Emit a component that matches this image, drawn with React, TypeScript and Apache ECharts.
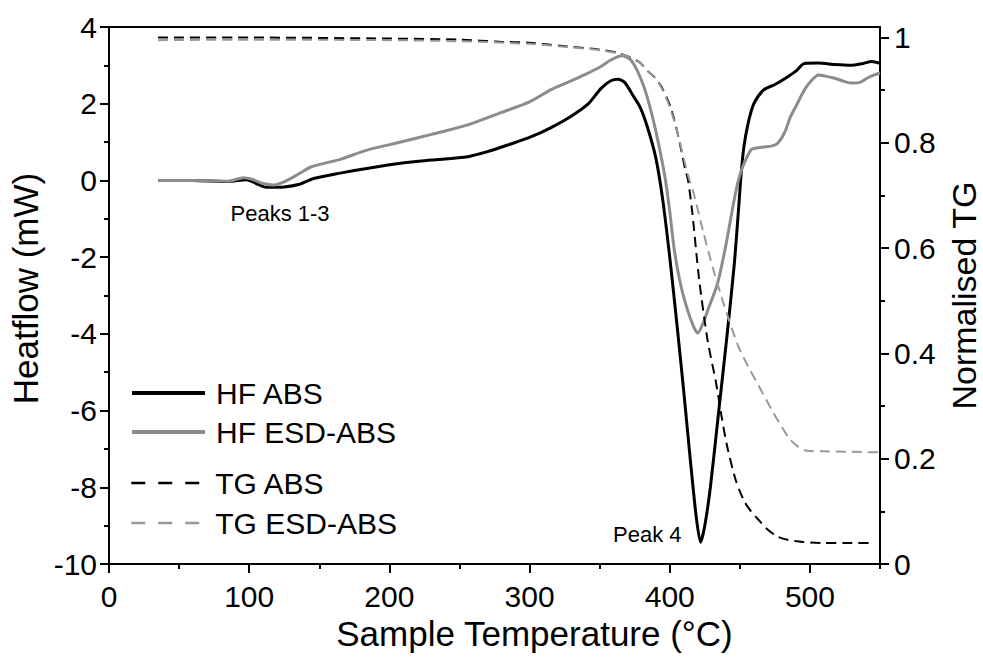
import React, { useEffect, useRef } from 'react';
import * as echarts from 'echarts';

// ---- Data ----
// HF ABS (heat flow, mW) vs sample temperature (°C)
const hfAbsT = [35, 60, 85, 98, 105, 112, 125, 136, 146, 165, 185, 208, 230, 256, 270, 285, 300, 315, 330, 342, 351, 358, 363, 368, 374, 379, 384, 390, 395, 400, 405, 410, 415, 419, 422, 425, 429, 435, 441, 446, 449, 451, 453, 456, 460, 467, 475, 482, 490, 496, 506, 518, 529, 538, 544, 550];
const hfAbsV = [0.0, 0.0, -0.03, 0.02, -0.08, -0.18, -0.17, -0.1, 0.05, 0.19, 0.32, 0.45, 0.53, 0.62, 0.75, 0.93, 1.12, 1.37, 1.68, 2.0, 2.4, 2.6, 2.64, 2.55, 2.2, 1.9, 1.4, 0.6, -0.5, -2.0, -3.7, -5.5, -7.4, -8.8, -9.43, -9.0, -8.0, -6.0, -4.0, -2.2, -0.8, 0.2, 0.9, 1.5, 2.0, 2.36, 2.5, 2.65, 2.85, 3.05, 3.06, 3.02, 3.0, 3.05, 3.1, 3.05];

// HF ESD-ABS
const hfEsdT = [35, 60, 85, 96, 102, 110, 117, 124, 134, 144, 165, 184, 208, 230, 256, 279, 300, 315, 330, 339, 350, 358, 366, 372, 377, 382, 386, 390, 394, 397, 400, 403, 406, 410, 416, 420, 424, 428, 434, 440, 446, 449, 452, 458, 463, 467, 473, 477, 482, 486, 491, 496, 501, 506, 511, 517, 523, 529, 535, 541, 546, 550];
const hfEsdV = [0.0, 0.0, -0.02, 0.07, 0.03, -0.08, -0.12, -0.05, 0.14, 0.35, 0.55, 0.79, 1.0, 1.2, 1.45, 1.76, 2.05, 2.36, 2.6, 2.75, 2.95, 3.14, 3.25, 3.15, 2.85, 2.4, 1.9, 1.3, 0.6, 0.0, -0.8, -1.74, -2.4, -3.04, -3.72, -3.98, -3.7, -3.3, -2.7, -1.7, -0.5, 0.0, 0.35, 0.8, 0.85, 0.87, 0.9, 0.97, 1.25, 1.65, 2.0, 2.36, 2.6, 2.75, 2.72, 2.67, 2.6, 2.54, 2.55, 2.67, 2.75, 2.8];

// TG ABS (normalised)
const tgAbsT = [35, 100, 200, 250, 279, 300, 327, 350, 363, 372, 379, 384, 389, 394, 398, 401, 405, 408, 411, 413, 416, 421, 427, 433, 437, 441, 447, 453, 458, 463, 470, 477, 484, 495, 510, 530, 546];
const tgAbsV = [1.0, 1.0, 0.998, 0.996, 0.992, 0.99, 0.983, 0.977, 0.971, 0.962, 0.952, 0.937, 0.925, 0.907, 0.885, 0.865, 0.825, 0.789, 0.75, 0.73, 0.67, 0.54, 0.425, 0.345, 0.28, 0.223, 0.16, 0.12, 0.1, 0.085, 0.065, 0.052, 0.046, 0.042, 0.04, 0.04, 0.04];

// TG ESD-ABS
const tgEsdT = [35, 100, 200, 250, 300, 327, 350, 363, 372, 379, 384, 390, 395, 400, 405, 410, 414, 417, 424, 431, 439, 449, 457, 465, 474, 480, 486, 492, 498, 510, 530, 550];
const tgEsdV = [0.995, 0.996, 0.995, 0.993, 0.988, 0.982, 0.976, 0.97, 0.962, 0.952, 0.937, 0.922, 0.9, 0.868, 0.825, 0.77, 0.73, 0.705, 0.63, 0.56, 0.49, 0.413, 0.37, 0.331, 0.287, 0.26, 0.236, 0.222, 0.215, 0.214, 0.213, 0.212];

// Tick values
const xLabelTicks = [0, 100, 200, 300, 400, 500];
const tgMajorTicks = [0, 0.2, 0.4, 0.6, 0.8, 1];
const tgMinorTicks = [0.1, 0.3, 0.5, 0.7, 0.9];

// Annotations (data coordinates)
const annotationText = ['Peaks 1-3', 'Peak 4'];
const annotationT = [122, 384];
const annotationV = [-0.85, -9.24];

const FONT = "'Liberation Sans', Arial, Helvetica, sans-serif";

const zip = (t: number[], v: number[]) => t.map((x, i) => [x, v[i]]);

export default function App() {
  const ref = useRef<HTMLDivElement>(null);

  useEffect(() => {
    document.body.style.margin = '0';
    const chart = echarts.init(ref.current!, null, { renderer: 'svg' });

    const axisLine = { show: true, onZero: false, lineStyle: { color: '#000', width: 2 } };
    const noLine = { show: false, onZero: false };
    const tickLine = { color: '#000', width: 2 };

    const legendCommon = {
      orient: 'vertical', left: 130,
      itemWidth: 73, itemHeight: 14, padding: 0,
      itemStyle: { opacity: 0 },
      textStyle: { fontSize: 30, fontFamily: FONT, color: '#000', lineHeight: 30, padding: [0, 0, 0, 6] },
    };

    const option: any = {
      animation: false,
      backgroundColor: '#fff',
      grid: { left: 109, right: 103, top: 27, bottom: 93, containLabel: false, outerBoundsMode: 'none' },
      xAxis: [
        {
          type: 'value', position: 'bottom', min: 0, max: 550, interval: 50,
          axisLine,
          axisTick: { show: true, length: 5, lineStyle: tickLine },
          axisLabel: {
            show: true, interval: 0, margin: 17, fontSize: 30, fontFamily: FONT, color: '#000',
            formatter: (v: number) => (xLabelTicks.indexOf(v) >= 0 ? String(v) : ''),
          },
          splitLine: { show: false },
          name: 'Sample Temperature (°C)', nameLocation: 'middle', nameGap: 52,
          nameTextStyle: { fontSize: 35, fontFamily: FONT, color: '#000', padding: [0, 0, 0, 80] },
        },
        {
          type: 'value', position: 'bottom', min: 0, max: 550, interval: 100,
          axisLine: noLine,
          axisTick: { show: true, length: 9, lineStyle: tickLine, customValues: xLabelTicks },
          axisLabel: { show: false },
          splitLine: { show: false },
        },
        {
          type: 'value', position: 'top', min: 0, max: 550, interval: 100,
          axisLine,
          axisTick: { show: false },
          axisLabel: { show: false },
          splitLine: { show: false },
        },
      ],
      yAxis: [
        {
          type: 'value', position: 'left', min: -10, max: 4, interval: 2,
          axisLine,
          axisTick: { show: true, length: 9, lineStyle: tickLine },
          minorTick: { show: true, splitNumber: 2, length: 5, lineStyle: tickLine },
          axisLabel: { margin: 12, fontSize: 30, fontFamily: FONT, color: '#000' },
          splitLine: { show: false },
          minorSplitLine: { show: false },
          name: 'Heatflow (mW)', nameLocation: 'middle', nameGap: 64,
          nameTextStyle: { fontSize: 35, fontFamily: FONT, color: '#000', padding: [0, 0, 0, 14] },
        },
        {
          type: 'value', position: 'right', min: 0, max: 1.02, interval: 0.2,
          axisLine,
          axisTick: { show: true, length: 9, lineStyle: tickLine, customValues: tgMajorTicks },
          axisLabel: {
            margin: 14, fontSize: 30, fontFamily: FONT, color: '#000',
            customValues: tgMajorTicks,
          },
          splitLine: { show: false },
          name: 'Normalised TG', nameLocation: 'middle', nameGap: 66,
          nameTextStyle: { fontSize: 34, fontFamily: FONT, color: '#000' },
        },
        {
          type: 'value', position: 'right', min: 0, max: 1.02, interval: 0.1,
          axisLine: noLine,
          axisTick: { show: true, length: 5, lineStyle: tickLine, customValues: tgMinorTicks },
          axisLabel: { show: false },
          splitLine: { show: false },
        },
      ],
      legend: [
        {
          ...legendCommon, top: 378, itemGap: 9,
          data: [
            { name: 'HF ABS', lineStyle: { width: 4 } },
            { name: 'HF ESD-ABS', lineStyle: { width: 4 } },
          ],
        },
        {
          ...legendCommon, top: 468, itemGap: 10,
          data: [
            { name: 'TG ABS', lineStyle: { width: 2.5, type: [14, 13] } },
            { name: 'TG ESD-ABS', lineStyle: { width: 2.5, type: [14, 13] } },
          ],
        },
      ],
      series: [
        {
          name: 'HF ABS', type: 'line', xAxisIndex: 0, yAxisIndex: 0,
          data: zip(hfAbsT, hfAbsV), symbol: 'circle', showSymbol: false, smooth: 0.25,
          lineStyle: { color: '#000', width: 3 }, itemStyle: { color: '#000' },
          markPoint: {
            symbol: 'circle', symbolSize: 1, itemStyle: { color: 'rgba(0,0,0,0)' },
            label: { show: true, position: 'inside', fontSize: 22, fontFamily: FONT, color: '#000', formatter: (p: any) => p.name },
            data: annotationText.map((t, i) => ({ name: t, coord: [annotationT[i], annotationV[i]] })),
          },
        },
        {
          name: 'HF ESD-ABS', type: 'line', xAxisIndex: 0, yAxisIndex: 0,
          data: zip(hfEsdT, hfEsdV), symbol: 'circle', showSymbol: false, smooth: 0.25,
          lineStyle: { color: '#8c8c8c', width: 3 }, itemStyle: { color: '#8c8c8c' },
        },
        {
          name: 'TG ABS', type: 'line', xAxisIndex: 0, yAxisIndex: 1,
          data: zip(tgAbsT, tgAbsV), symbol: 'circle', showSymbol: false, smooth: 0.25,
          lineStyle: { color: '#000', width: 2, type: [10, 6] }, itemStyle: { color: '#000' },
        },
        {
          name: 'TG ESD-ABS', type: 'line', xAxisIndex: 0, yAxisIndex: 1,
          data: zip(tgEsdT, tgEsdV), symbol: 'circle', showSymbol: false, smooth: 0.25,
          lineStyle: { color: '#999999', width: 2, type: [10, 6] }, itemStyle: { color: '#999999' },
        },
      ],
    };

    chart.setOption(option);
    return () => chart.dispose();
  }, []);

  return <div ref={ref} style={{ width: 983, height: 657 }} />;
}
